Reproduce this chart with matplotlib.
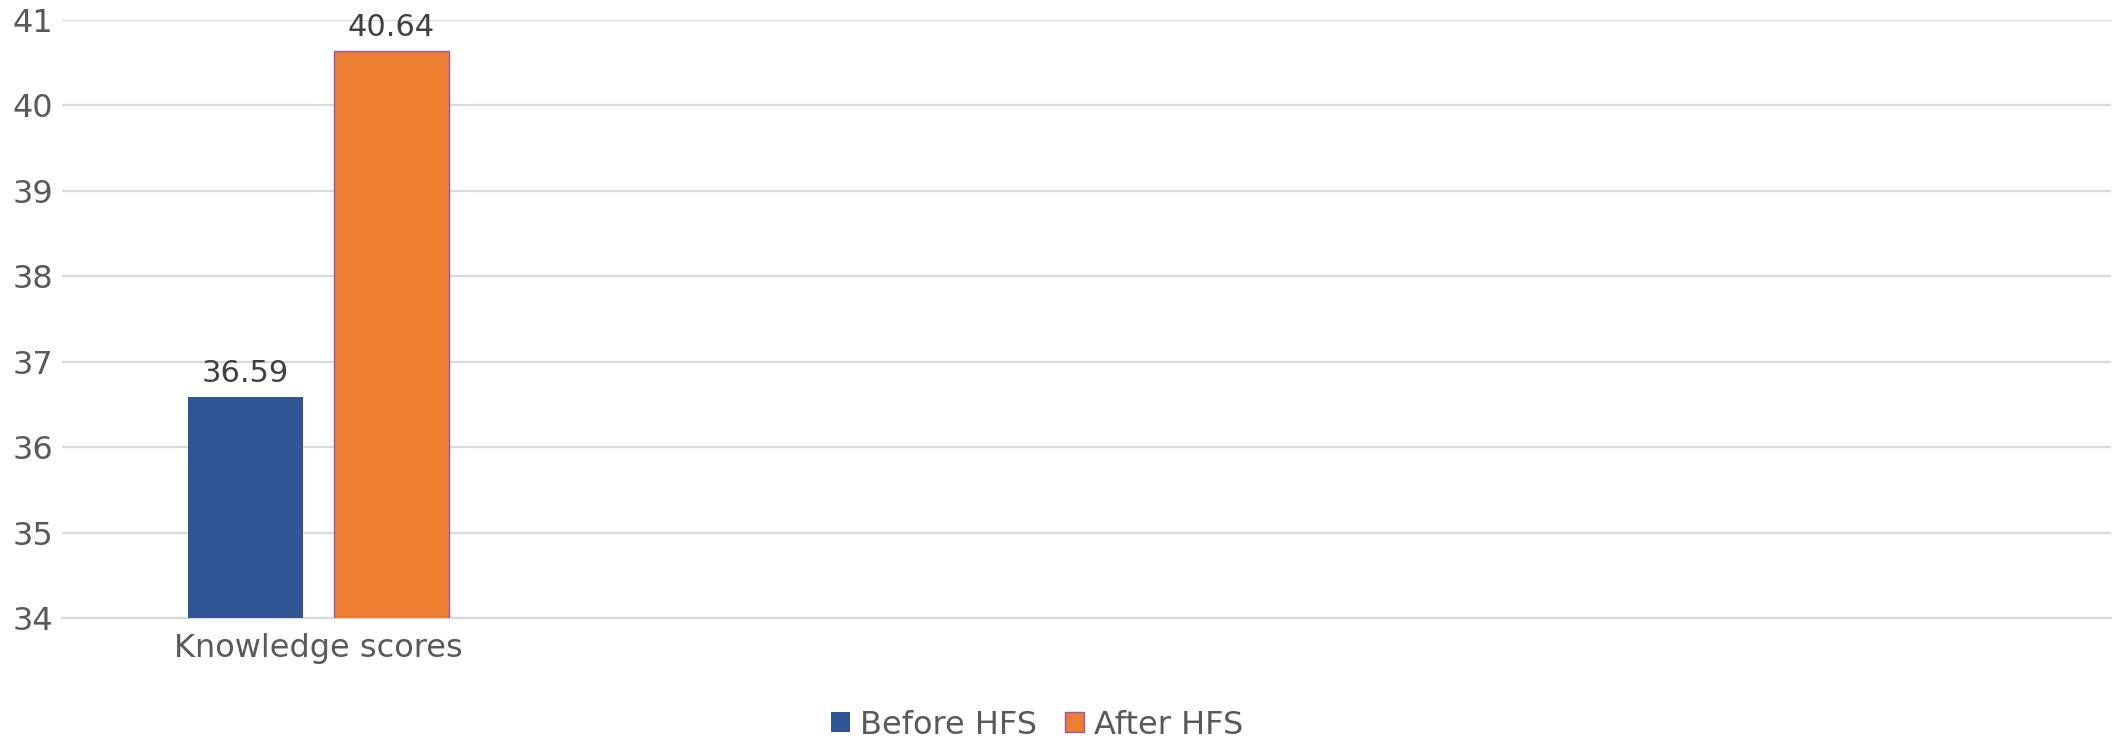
"""Grouped bar chart of knowledge scores before and after HFS."""

import matplotlib.pyplot as plt

categories = ["Knowledge scores"]
before_hfs = [36.59]
after_hfs = [40.64]
series_names = ["Before HFS", "After HFS"]
y_ticks = [34, 35, 36, 37, 38, 39, 40, 41]

BLUE = "#2F5597"
ORANGE = "#ED7D31"
GRID = "#D9D9D9"
TICK_TEXT = "#595959"
LABEL_TEXT = "#404040"


def main() -> None:
    plt.rcParams["font.family"] = ["DejaVu Sans"]

    fig = plt.figure(figsize=(21.12, 7.38), dpi=100)
    ax = fig.add_axes([0.0294, 0.1626, 0.9702, 0.8103])

    width = 0.2246
    offset = 0.1426
    xs = list(range(len(categories)))

    bars_before = ax.bar(
        [x - offset for x in xs], before_hfs, width=width,
        color=BLUE, label=series_names[0], zorder=3,
    )
    bars_after = ax.bar(
        [x + offset for x in xs], after_hfs, width=width,
        color=ORANGE, edgecolor="#8E5BB0", linewidth=1.0,
        label=series_names[1], zorder=3,
    )

    for bars, values in ((bars_before, before_hfs), (bars_after, after_hfs)):
        for bar, val in zip(bars, values):
            ax.annotate(
                f"{val:.2f}",
                xy=(bar.get_x() + bar.get_width() / 2, val),
                xytext=(0, 10.5), textcoords="offset points",
                ha="center", va="baseline",
                fontsize=22, color=LABEL_TEXT,
            )

    # the category axis has room for four groups; only the first is used
    ax.set_xlim(-0.5, 3.5)
    ax.set_ylim(34, 41)
    ax.set_yticks(y_ticks)
    ax.set_yticklabels([str(t) for t in y_ticks])
    ax.set_xticks(xs)
    ax.set_xticklabels(categories)

    ax.grid(axis="y", color=GRID, linewidth=1.6, zorder=0)
    ax.set_axisbelow(True)
    for side in ("top", "right", "left"):
        ax.spines[side].set_visible(False)
    ax.spines["bottom"].set_color(GRID)
    ax.spines["bottom"].set_linewidth(1.6)

    ax.tick_params(axis="both", length=0, labelsize=23, labelcolor=TICK_TEXT)
    ax.tick_params(axis="y", pad=6.5)
    ax.tick_params(axis="x", pad=10.5)

    fig.legend(
        handles=[bars_before, bars_after],
        labels=series_names,
        loc="center",
        bbox_to_anchor=(1037 / 2112, 1 - 725 / 738),
        ncol=2, frameon=False, fontsize=23,
        labelcolor=TICK_TEXT, handlelength=0.6, handleheight=0.6,
        handletextpad=0.3, columnspacing=0.9,
    )

    fig.savefig("out.png", dpi=100)
    plt.close(fig)


if __name__ == "__main__":
    main()
